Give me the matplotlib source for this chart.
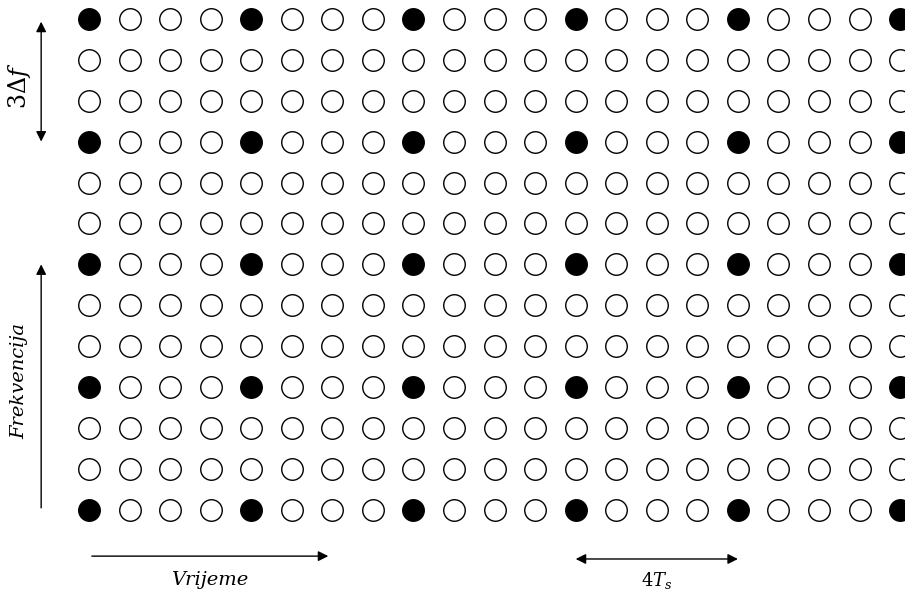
import numpy as np
import matplotlib.pyplot as plt

# resource grid: time slots (columns) x subcarriers (rows)
n_time = 21
n_freq = 13
pilot_step_time = 4
pilot_step_freq = 3

time_idx = np.arange(n_time)
freq_idx = np.arange(n_freq)

plt.rcParams['mathtext.fontset'] = 'dejavuserif'

fig = plt.figure(figsize=(9.05, 5.95), dpi=100)
ax = fig.add_axes([0, 0, 1, 1])

T, F = np.meshgrid(time_idx, freq_idx)
T = T.ravel()
F = F.ravel()
pilot = (T % pilot_step_time == 0) & (F % pilot_step_freq == 0)

ax.plot(T[~pilot], F[~pilot], 'o', ms=15.5, mfc='white', mec='black', mew=1.0, ls='none')
ax.plot(T[pilot], F[pilot], 'o', ms=15.5, mfc='black', mec='black', mew=1.0, ls='none')

# pixel-aligned limits (frequency index 0 at the bottom row)
ax.set_xlim(-2.195, 20.12)
ax.set_ylim(-2.08, 12.46)
ax.axis('off')

arr = dict(arrowstyle='-|>', color='black', lw=1.0, mutation_scale=15, shrinkA=0, shrinkB=0)
darr = dict(arr, arrowstyle='<|-|>')

# 3 delta f
ax.annotate('', xy=(-1.18, 12 - 0.07), xytext=(-1.18, 9), arrowprops=darr)
ax.text(-1.72, 10.36, r'$3\Delta f$', rotation=90, ha='center', va='center', fontsize=17)

# Frekvencija
ax.annotate('', xy=(-1.18, 6), xytext=(-1.18, 0.05), arrowprops=arr)
ax.text(-1.72, 3.15, 'Frekvencija', rotation=90, ha='center', va='center',
        fontsize=14, family='DejaVu Serif', style='italic')

# Vrijeme
ax.annotate('', xy=(5.9, -1.13), xytext=(0.07, -1.13), arrowprops=arr)
ax.text(2.97, -1.72, 'Vrijeme', ha='center', va='center',
        fontsize=14, family='DejaVu Serif', style='italic')

# 4 Ts
ax.annotate('', xy=(16, -1.2), xytext=(12, -1.2), arrowprops=darr)
ax.text(14, -1.72, r'$4T_s$', ha='center', va='center', fontsize=13)

fig.savefig('out.png', dpi=100)
